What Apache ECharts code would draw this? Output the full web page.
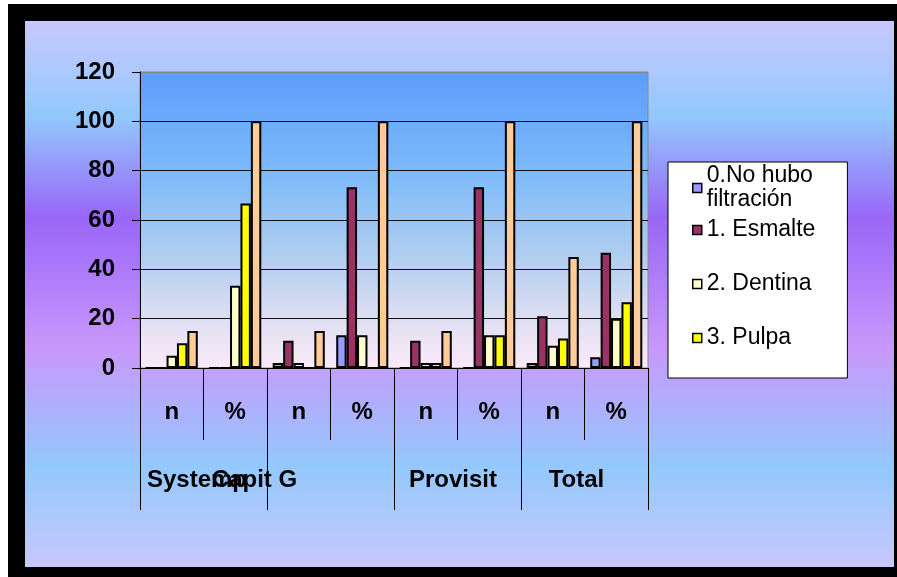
<!DOCTYPE html>
<html><head><meta charset="utf-8">
<script src="https://cdn.jsdelivr.net/npm/echarts@6/dist/echarts.min.js"></script>
<style>
html,body{margin:0;padding:0;background:#fff;width:897px;height:577px;overflow:hidden;}
#frame{position:absolute;left:8px;top:4px;width:889px;height:573px;background:#000;}
#chart{position:absolute;left:17px;top:17px;width:869px;height:546px;box-shadow:inset 0 0 0 1px #777;}
</style></head><body>
<div id="frame"><div id="chart"></div></div>
<script>
const subCategories = ['n', '%', 'n', '%', 'n', '%', 'n', '%'];
const groups = ['Systemp', 'Capit G', 'Provisit', 'Total'];
const seriesNames = ['0.No hubo filtración', '1. Esmalte', '2. Dentina', '3. Pulpa', 'Total'];
const noFiltracion = [0, 0, 2, 13.3, 0, 0, 2, 4.4];
const esmalte = [0, 0, 11, 73.3, 11, 73.3, 21, 46.7];
const dentina = [5, 33.3, 2, 13.3, 2, 13.3, 9, 20];
const pulpa = [10, 66.7, 0, 0, 2, 13.3, 12, 26.7];
const total = [15, 100, 15, 100, 15, 100, 45, 100];
const yMin = 0, yMax = 120, yStep = 20;

const colors = ['#9999ff', '#993366', '#ffffcc', '#ffff00', '#ffcc99'];
const seriesData = [noFiltracion, esmalte, dentina, pulpa, total];
const FONT = "'Liberation Sans', Arial, sans-serif";
const groupShift = { 'Systemp': 13, 'Capit G': 152, 'Provisit': 9, 'Total': 16 };

const chart = echarts.init(document.getElementById('chart'), null, { renderer: 'canvas' });
chart.setOption({
  animation: false,
  backgroundColor: new echarts.graphic.LinearGradient(0, 0, 0, 1, [
    { offset: 0, color: '#c8c8fc' },
    { offset: 0.176, color: '#92c8fd' },
    { offset: 0.36, color: '#9966f8' },
    { offset: 0.60, color: '#c898fc' },
    { offset: 0.817, color: '#94c8fc' },
    { offset: 1, color: '#c8c8fc' }
  ]),
  textStyle: { fontFamily: FONT },
  grid: {
    left: 115, top: 51, width: 508, height: 296,
    show: true, borderColor: '#888', borderWidth: 1,
    backgroundColor: new echarts.graphic.LinearGradient(0, 0, 0, 1, [
      { offset: 0, color: '#5c9cfb' },
      { offset: 0.35, color: '#7ebbfa' },
      { offset: 0.6, color: '#acccef' },
      { offset: 0.85, color: '#e2e0f3' },
      { offset: 1, color: '#fceaf8' }
    ])
  },
  legend: {
    orient: 'vertical', left: 643, top: 141,
    backgroundColor: '#fff', borderColor: '#000', borderWidth: 1,
    padding: [2, 32, 22, 24],
    itemGap: 0, itemWidth: 9, itemHeight: 9, icon: 'rect',
    selectedMode: false,
    itemStyle: { borderColor: '#000', borderWidth: 1.5 },
    textStyle: { fontFamily: FONT, fontSize: 23, color: '#000', lineHeight: 24 },
    formatter: function (name) { return name === seriesNames[0] ? '0.No hubo\nfiltración' : name; },
    data: [
      { name: seriesNames[0], textStyle: { lineHeight: 24 } },
      { name: seriesNames[1], textStyle: { lineHeight: 36 } },
      { name: seriesNames[2], textStyle: { lineHeight: 72 } },
      { name: seriesNames[3], textStyle: { lineHeight: 36 } }
    ]
  },
  xAxis: [
    {
      type: 'category', position: 'bottom', data: subCategories,
      axisLine: { show: true, lineStyle: { color: '#000', width: 1 } },
      axisTick: { show: true, interval: 0, length: 72, lineStyle: { color: '#000', width: 1 } },
      axisLabel: { interval: 0, margin: 32, fontSize: 24, fontWeight: 'bold', color: '#000', fontFamily: FONT },
      splitLine: { show: false }
    },
    {
      type: 'category', position: 'bottom',
      data: groups.map(g => ({ value: g, textStyle: { padding: [0, groupShift[g], 0, 0] } })),
      axisLine: { show: false },
      axisTick: { show: true, interval: 0, length: 142, lineStyle: { color: '#000', width: 1 } },
      axisLabel: { interval: 0, margin: 100, fontSize: 24, fontWeight: 'bold', color: '#000', fontFamily: FONT },
      splitLine: { show: false }
    }
  ],
  yAxis: {
    type: 'value', min: yMin, max: yMax, interval: yStep,
    axisLine: { show: true, lineStyle: { color: '#000', width: 1 } },
    axisTick: { show: true, length: 8, lineStyle: { color: '#000', width: 1 } },
    axisLabel: { margin: 25, fontSize: 24, fontWeight: 'bold', color: '#000', fontFamily: FONT },
    splitLine: { show: true, lineStyle: { color: ['#111', '#111', '#111', '#111', '#111', '#111', '#888'], width: 1 } }
  },
  series: seriesNames.map((name, i) => ({
    name: name, type: 'bar', xAxisIndex: 0,
    data: seriesData[i],
    barGap: '0%', barCategoryGap: '18%',
    itemStyle: { color: colors[i], borderColor: '#000', borderWidth: 2 }
  }))
});
</script>
</body></html>
